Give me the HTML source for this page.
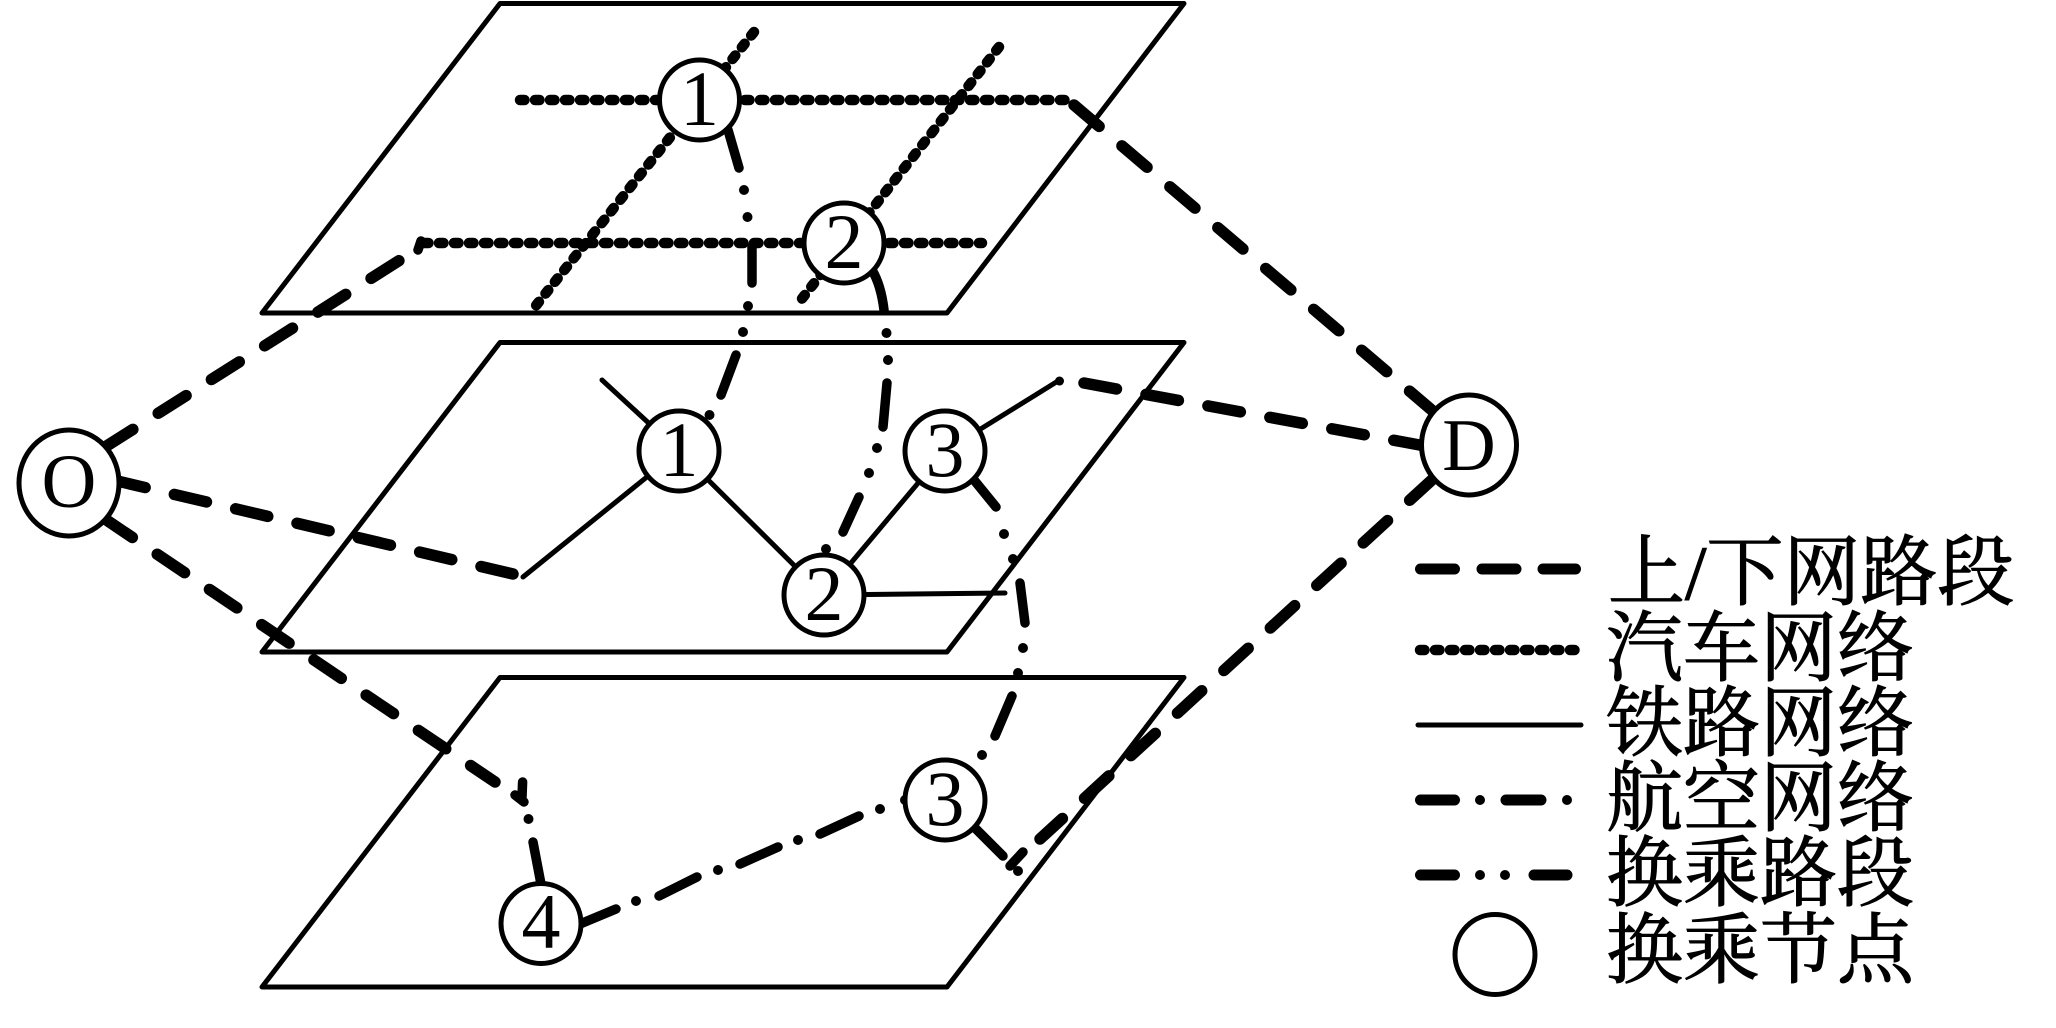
<!DOCTYPE html>
<html lang="zh">
<head>
<meta charset="utf-8">
<title>Network diagram</title>
<style>
html,body{margin:0;padding:0;background:#fff;width:2056px;height:1028px;overflow:hidden}
svg{display:block}
.plane{fill:none;stroke:#000;stroke-width:5;stroke-linejoin:round}
.dash{fill:none;stroke:#000;stroke-width:11.500;stroke-linecap:round;stroke-dasharray:33 30}
.bus{fill:none;stroke:#000;stroke-width:10.500;stroke-linecap:round;stroke-dasharray:4.500 10.500}
.rail{fill:none;stroke:#000;stroke-width:5;stroke-linecap:round}
.seg{fill:none;stroke:#000;stroke-width:9.500;stroke-linecap:round}
.dot{fill:none;stroke:#000;stroke-width:10;stroke-linecap:round}
.node{fill:#fff;stroke:#000;stroke-width:5}
.n{font-family:"Liberation Serif",serif;font-size:78px;text-anchor:middle;fill:#000}
.l{font-family:"Liberation Serif","Noto Serif CJK SC",serif;font-size:77px;fill:#000;stroke:#000;stroke-width:1.100}
</style>
</head>
<body>
<svg width="2056" height="1028" viewBox="0 0 2056 1028" xmlns="http://www.w3.org/2000/svg">
<rect width="2056" height="1028" fill="#fff"/>
<!-- planes -->
<path class="plane" d="M500 3.500H1184L947 313H262Z"/>
<path class="plane" d="M500 342.500H1184L947 652H262Z"/>
<path class="plane" d="M500 677.500H1184L947 987H262Z"/>

<!-- bus network -->
<path class="bus" d="M520 100H1066"/>
<path class="bus" d="M424 243H982"/>
<path class="bus" d="M754 32L534 308"/>
<path class="bus" d="M999 47L797 305"/>

<!-- rail network -->
<path class="rail" d="M602 380L679 451"/>
<path class="rail" d="M523 577L679 451L824 595L945 451L1058 381"/>
<path class="rail" d="M824 595L1005 593"/>
<path class="dot" style="stroke-width:9" d="M1059.500 381l0 .01"/>

<!-- up/down -->
<path class="dash" d="M105 447L400 260"/>
<path class="seg" d="M421 241L418 250"/>
<path class="dash" d="M113 480L513 574"/>
<path class="dash" d="M105 519L495 782"/>
<path class="dash" d="M1074 105L1434 412"/>
<path class="dash" d="M1084 383L1425 446"/>
<path class="dash" d="M1434 478L1040 839"/>
<path class="seg" d="M1023 852L1010 866"/>

<!-- transfer top 1 -> mid 1 -->
<path class="seg" d="M728 130L739 168M752 247L752 283M736 355L721 395"/>
<path class="dot" d="M744 190l0 .01M747.500 217l0 .01M748 306l0 .01M743 332l0 .01M709.500 415l0 .01"/>
<!-- transfer top 2 -> mid 2 -->
<path class="seg" d="M872 270Q881 285 884 310M887 383L883 427M859 497L843 532"/>
<path class="dot" d="M886.500 333l0 .01M888 360l0 .01M877 448l0 .01M869 473l0 .01M826 549l0 .01"/>
<!-- transfer mid 3 -> bottom 3 -->
<path class="seg" d="M974 480L996 507M1020 583L1025 623M1012 696L995 736"/>
<path class="dot" d="M1004 534l0 .01M1013 559l0 .01M1023 648l0 .01M1018 673l0 .01M982 755l0 .01"/>
<!-- air -->
<path class="seg" d="M580 924L616 909M659 896L697 877M740 864L778 847M820 834L859 816"/>
<path class="dot" d="M636 901l0 .01M718 870l0 .01M798 840l0 .01M880 809l0 .01M905 800l0 .01"/>
<!-- transfer bottom 4 -->
<path class="seg" d="M541 884L533 842M522.600 782L522 797M515 795L524 802"/>
<path class="dot" d="M528.500 819l0 .01"/>
<!-- transfer bottom 3 -->
<path class="seg" d="M974 827L1003 856"/>
<path class="dot" d="M1018 871l0 .01"/>

<!-- nodes -->
<circle class="node" cx="699.500" cy="100" r="40"/>
<circle class="node" cx="844" cy="243" r="40"/>
<circle class="node" cx="679" cy="451" r="40"/>
<circle class="node" cx="945" cy="451" r="40"/>
<circle class="node" cx="824" cy="595" r="40"/>
<circle class="node" cx="945" cy="800" r="40"/>
<circle class="node" cx="541" cy="923.500" r="40"/>
<ellipse class="node" cx="69" cy="483" rx="50" ry="53"/>
<ellipse class="node" cx="1469" cy="445" rx="47.500" ry="50"/>

<text class="n" x="699.500" y="125">1</text>
<text class="n" x="844" y="268">2</text>
<text class="n" x="679" y="476">1</text>
<text class="n" x="945" y="476">3</text>
<text class="n" x="824" y="620">2</text>
<text class="n" x="945" y="825">3</text>
<text class="n" x="541" y="948">4</text>
<text class="n" x="69" y="507" style="font-size:76px">O</text>
<text class="n" x="1469" y="470" style="font-size:74px">D</text>

<!-- legend -->
<path class="seg" style="stroke-width:11" d="M1420.500 569H1454.500M1482 569H1516M1543 569H1575.500"/>
<path class="bus" d="M1420 650H1578"/>
<path class="rail" d="M1418 725H1581"/>
<path class="seg" style="stroke-width:11" d="M1420.500 800H1454.500M1506 800H1541"/>
<path class="dot" d="M1480 800l0 .01M1567 800l0 .01"/>
<path class="seg" style="stroke-width:11" d="M1420.500 875H1454.500M1534 875H1567"/>
<path class="dot" d="M1480 875l0 .01M1505 875l0 .01"/>
<circle class="node" cx="1495" cy="954.500" r="40"/>

<text class="l" x="1608" y="599">上/下网路段</text>
<text class="l" x="1606" y="675">汽车网络</text>
<text class="l" x="1606" y="750">铁路网络</text>
<text class="l" x="1606" y="825">航空网络</text>
<text class="l" x="1606" y="900">换乘路段</text>
<text class="l" x="1606" y="977">换乘节点</text>
</svg>
</body>
</html>
